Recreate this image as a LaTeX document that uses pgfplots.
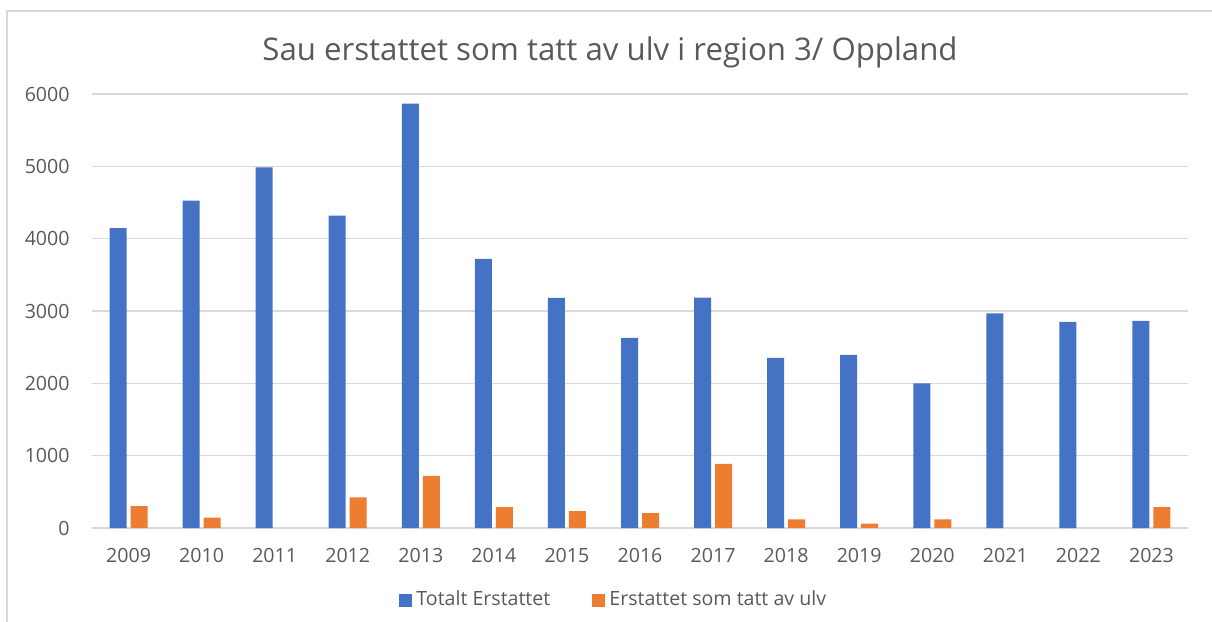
\documentclass[border=0pt]{standalone}
\usepackage{fontspec}
\setmainfont{Open Sans}
\usepackage{pgfplots}
\pgfplotsset{compat=1.18}
\definecolor{cblue}{HTML}{4472C4}
\definecolor{corange}{HTML}{ED7D31}
\definecolor{ctext}{HTML}{595959}
\definecolor{cgrid}{HTML}{D9D9D9}
\begin{document}
\begin{tikzpicture}
\path[use as bounding box] (0,0) rectangle (606pt,311pt);
\draw[cgrid, line width=0.8pt] (3.5pt,0) -- (3.5pt,305.5pt) -- (606pt,305.5pt);
\begin{axis}[
  at={(46pt,47pt)}, anchor=south west,
  scale only axis, width=548pt, height=217pt,
  ybar=2pt, bar width=8.5pt,
  xmin=-0.5, xmax=14.5, ymin=0, ymax=6000,
  xtick={0,...,14},
  xticklabels={2009,2010,2011,2012,2013,2014,2015,2016,2017,2018,2019,2020,2021,2022,2023},
  ytick={0,1000,...,6000},
  major tick length=0pt,
  axis line style={draw=none},
  ymajorgrids, grid style={cgrid, line width=0.7pt},
  /pgf/number format/1000 sep={},
  /pgf/number format/assume math mode=true,
  tick label style={font=\fontsize{9.8}{12}\selectfont, text=ctext},
  yticklabel style={anchor=east, inner sep=0pt, xshift=-11pt},
  xticklabel style={anchor=north, inner sep=0pt, yshift=-10pt},
  legend style={at={(0.477,-0.166)}, anchor=center, draw=none, fill=none,
    font=\fontsize{9.8}{12}\selectfont, text=ctext, legend columns=2,
    /tikz/every even column/.append style={column sep=19pt}},
  legend image code/.code={\fill[#1] (0pt,-3.25pt) rectangle (6.5pt,3.25pt);},
  legend cell align=left,
]
\addplot[fill=cblue, draw=none] coordinates {
(0,4145) (1,4525) (2,4985) (3,4318) (4,5866) (5,3720) (6,3180) (7,2630)
(8,3184) (9,2351) (10,2392) (11,2000) (12,2968) (13,2850) (14,2865)};
\addplot[fill=corange, draw=none] coordinates {
(0,304) (1,142) (3,423) (4,720) (5,290) (6,235) (7,207)
(8,885) (9,120) (10,61) (11,120) (14,290)};
\legend{Totalt Erstattet, Erstattet som tatt av ulv}
\end{axis}
\node[anchor=base, font=\fontsize{15.6}{18}\selectfont, text=ctext] at (305pt,280.5pt) {Sau erstattet som tatt av ulv i region 3/ Oppland};
\end{tikzpicture}
\end{document}
